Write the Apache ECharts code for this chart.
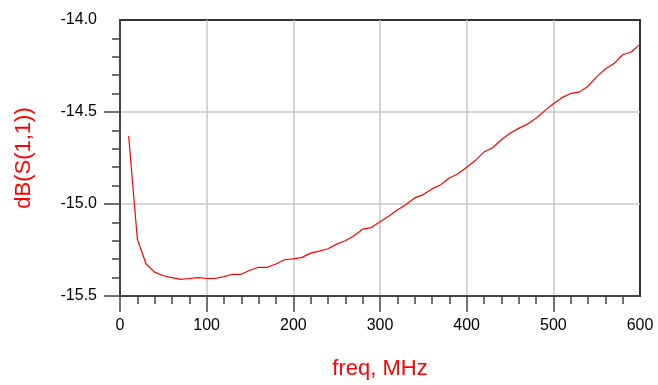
<!DOCTYPE html>
<html>
<head>
<meta charset="utf-8">
<script src="https://cdn.jsdelivr.net/npm/echarts@6/dist/echarts.min.js"></script>
<style>
  html, body { margin: 0; padding: 0; background: #fff; }
  #chart { width: 658px; height: 385px; }
</style>
</head>
<body>
<div id="chart"></div>
<script>
// Frequency sweep (MHz) and return loss dB(S(1,1))
const freqMHz = [10,20,30,40,50,60,70,80,90,100,110,120,130,140,150,160,170,180,190,200,
  210,220,230,240,250,260,270,280,290,300,310,320,330,340,350,360,370,380,390,400,
  410,420,430,440,450,460,470,480,490,500,510,520,530,540,550,560,570,580,590,600];
const s11dB = [-14.63,-15.19,-15.325,-15.37,-15.39,-15.40,-15.41,-15.405,-15.40,-15.405,
  -15.405,-15.395,-15.382,-15.382,-15.36,-15.344,-15.344,-15.326,-15.303,-15.298,
  -15.29,-15.267,-15.256,-15.243,-15.218,-15.20,-15.173,-15.137,-15.128,-15.096,
  -15.066,-15.033,-15.003,-14.967,-14.949,-14.918,-14.895,-14.859,-14.836,-14.80,
  -14.764,-14.717,-14.694,-14.651,-14.616,-14.589,-14.566,-14.534,-14.494,-14.455,
  -14.422,-14.399,-14.392,-14.36,-14.309,-14.266,-14.237,-14.189,-14.174,-14.131];

// Major tick marks (the far ends are closed by the frame instead)
const xMajorTicks = [0, 100, 200, 300, 400, 500];
const yMajorTicks = [-15.5, -15.0, -14.5];

const xName = 'freq, MHz';
const yName = 'dB(S(1,1))';

const FONT = '"Liberation Sans", Arial, sans-serif';
const axisDark = '#444';

const chart = echarts.init(document.getElementById('chart'), null, { renderer: 'canvas' });
chart.setOption({
  animation: false,
  grid: {
    left: 120, right: 18, top: 20, bottom: 87,
    show: true, borderColor: '#333', borderWidth: 2, backgroundColor: '#fff'
  },
  xAxis: {
    type: 'value', min: 0, max: 600, interval: 100,
    name: xName, nameLocation: 'middle', nameGap: 62,
    nameTextStyle: { color: '#ff0000', fontSize: 22, fontFamily: FONT },
    axisLine: { show: true, lineStyle: { color: axisDark, width: 2 } },
    axisTick: { show: true, length: 16, customValues: xMajorTicks,
      lineStyle: { color: axisDark, width: 1.5 } },
    minorTick: { show: true, splitNumber: 5, length: 8, lineStyle: { color: axisDark, width: 1.5 } },
    axisLabel: { color: '#000', fontSize: 16, fontFamily: FONT, margin: 22 },
    splitLine: { show: true, lineStyle: { color: '#c8c8c8', width: 1.5 } }
  },
  yAxis: {
    type: 'value', min: -15.5, max: -14.0, interval: 0.5,
    name: yName, nameLocation: 'middle', nameGap: 85, nameRotate: 90,
    nameTextStyle: { color: '#ff0000', fontSize: 22, fontFamily: FONT },
    axisLine: { show: true, lineStyle: { color: axisDark, width: 2 } },
    axisTick: { show: true, length: 16, customValues: yMajorTicks,
      lineStyle: { color: axisDark, width: 1.5 } },
    minorTick: { show: true, splitNumber: 5, length: 8, lineStyle: { color: axisDark, width: 1.5 } },
    axisLabel: { color: '#000', fontSize: 16, fontFamily: FONT, margin: 23,
      formatter: v => v.toFixed(1) },
    splitLine: { show: true, lineStyle: { color: '#c8c8c8', width: 1.5 } }
  },
  series: [{
    type: 'line',
    data: freqMHz.map((f, i) => [f, s11dB[i]]),
    showSymbol: false,
    lineStyle: { color: '#ff0000', width: 1.2 },
    clip: true
  }]
});
</script>
</body>
</html>
